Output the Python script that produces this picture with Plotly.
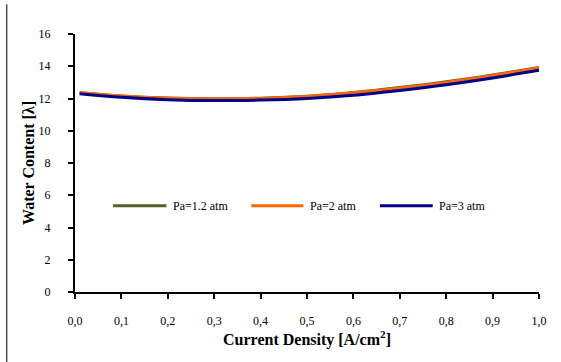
import plotly.graph_objects as go

# Current density [A/cm²] and membrane water content λ for three anode pressures
current_density = [0.01, 0.1, 0.2, 0.3, 0.4, 0.5, 0.6, 0.7, 0.8, 0.9, 1.0]
water_pa_1_2 = [12.36, 12.16, 12.03, 11.98, 12.02, 12.14, 12.37, 12.68, 13.04, 13.46, 13.93]
water_pa_2 = [12.35, 12.15, 12.02, 11.97, 12.00, 12.12, 12.35, 12.65, 13.00, 13.42, 13.90]
water_pa_3 = [12.30, 12.08, 11.93, 11.87, 11.90, 12.00, 12.20, 12.50, 12.85, 13.27, 13.75]

series_names = ["Pa=1.2 atm", "Pa=2 atm", "Pa=3 atm"]
series_colors = ["#4F6228", "#FF6600", "#00008B"]
series_values = [water_pa_1_2, water_pa_2, water_pa_3]

x_ticks = [0.0, 0.1, 0.2, 0.3, 0.4, 0.5, 0.6, 0.7, 0.8, 0.9, 1.0]
y_ticks = [0, 2, 4, 6, 8, 10, 12, 14, 16]

FONT = "Liberation Serif"

fig = go.Figure()
for name, color, vals in zip(series_names, series_colors, series_values):
    fig.add_trace(go.Scatter(
        x=current_density, y=vals, name=name, mode="lines",
        line=dict(color=color, width=3, shape="spline", smoothing=1.0),
        showlegend=False,
    ))

# In-plot legend: sample line followed by its label
legend_y = 5.35
legend_slots = [(0.082, 0.197), (0.380, 0.492), (0.657, 0.771)]
for (x0, x1), name, color in zip(legend_slots, series_names, series_colors):
    fig.add_shape(type="line", xref="x", yref="y", x0=x0, x1=x1, y0=legend_y, y1=legend_y,
                  line=dict(color=color, width=3))
    fig.add_annotation(x=x1 + 0.010, y=legend_y, xref="x", yref="y", text=name,
                       showarrow=False, xanchor="left", yanchor="middle",
                       font=dict(family=FONT, size=12, color="black"))

# Left border of the chart frame
fig.add_shape(type="line", xref="paper", yref="paper", x0=-0.147, x1=-0.147, y0=-0.275, y1=1.115,
              line=dict(color="black", width=1))

fig.update_layout(
    width=561, height=362,
    margin=dict(l=75, r=22, t=34, b=70),
    paper_bgcolor="white", plot_bgcolor="white",
    separators=",.",
    font=dict(family=FONT, size=12, color="black"),
    showlegend=False,
)
fig.update_xaxes(
    range=[0, 1.0], tickvals=x_ticks, tickformat=".1f",
    showgrid=False, zeroline=False,
    showline=True, linecolor="black", linewidth=1.5,
    ticks="outside", ticklen=5, tickwidth=2, tickcolor="black",
    ticklabelstandoff=12,
    tickfont=dict(family=FONT, size=12),
    title=dict(text="<b>Current Density [A/cm<sup>2</sup>]</b>", standoff=5,
               font=dict(family=FONT, size=16)),
)
fig.update_yaxes(
    range=[0, 16], tickvals=y_ticks,
    showgrid=False, zeroline=False,
    showline=True, linecolor="black", linewidth=2,
    ticks="outside", ticklen=5, tickwidth=2, tickcolor="black",
    ticklabelstandoff=15,
    tickfont=dict(family=FONT, size=12),
    title=dict(text="<b>Water Content [λ]</b>", standoff=0,
               font=dict(family=FONT, size=16)),
)

fig.write_html("out.html")
